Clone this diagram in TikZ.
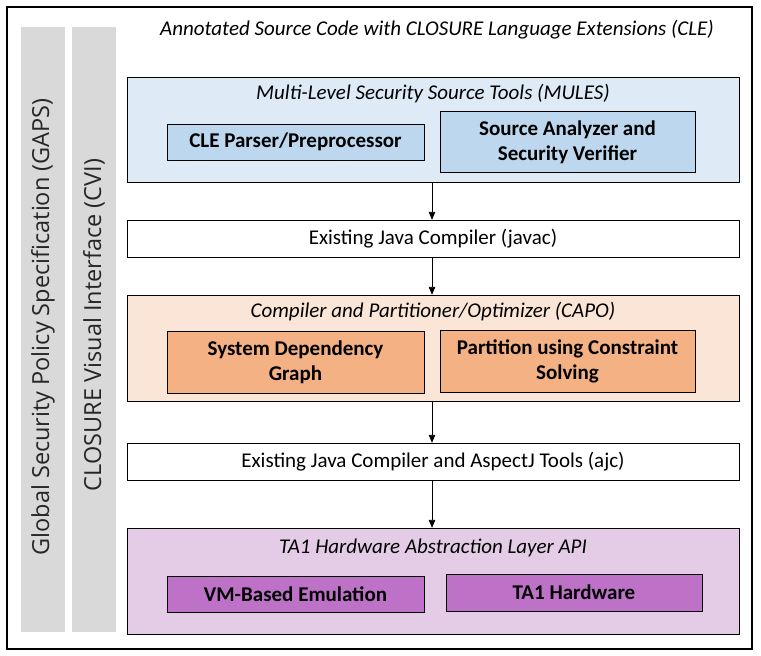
\documentclass[tikz,border=0pt]{standalone}
\usepackage{fontspec}
\setmainfont{Carlito}
\newfontfamily\sidefont{Open Sans}
\usetikzlibrary{arrows.meta,positioning}
\definecolor{barGrey}{HTML}{D9D9D9}
\definecolor{mulesBg}{HTML}{DEEBF7}
\definecolor{mulesIn}{HTML}{BDD7EE}
\definecolor{capoBg}{HTML}{FBE5D6}
\definecolor{capoIn}{HTML}{F4B183}
\definecolor{taBg}{HTML}{E4CCE6}
\definecolor{taIn}{HTML}{BD71C7}
\tikzset{
  layer/.style={draw, minimum width=612pt, inner sep=0pt},
  stage/.style={layer, fill=white, minimum height=37pt},
  heading/.style={font=\itshape\fontsize{21}{25}\selectfont},
  tool/.style={draw, inner sep=0pt, align=center, font=\bfseries\fontsize{21}{25}\selectfont},
  sidebar/.style={fill=barGrey, minimum width=44pt, minimum height=605pt, inner sep=0pt},
  sidetext/.style={rotate=90, text=black!85, font=\sidefont\fontsize{23.5}{26}\selectfont},
  flow/.style={-{Triangle[length=8pt,width=6.5pt]}, line width=0.9pt},
}
\begin{document}
\begin{tikzpicture}[x=1pt, y=-1pt, font=\fontsize{21}{25}\selectfont]
  \useasboundingbox (0,0) rectangle (761,656);
  \node[draw, line width=1.6pt, minimum width=745pt, minimum height=642pt] (frame) at (379.5,328) {};

  % side bars
  \node[sidebar] (gaps) at (43,329.5) {};
  \node[sidetext] (gapsText) at (43,327) {Global Security Policy Specification (GAPS)};
  \node[sidebar] (cvi) at (94,329.5) {};
  \node[sidetext] (cviText) at (94,325) {CLOSURE Visual Interface (CVI)};

  \node[heading] (source) at (437,30) {Annotated Source Code with CLOSURE Language Extensions (CLE)};

  % MULES
  \node[layer, fill=mulesBg, minimum height=105pt] (mules) at (433,129.5) {};
  \node[heading] (mulesTitle) at (433,94) {Multi-Level Security Source Tools (MULES)};
  \node[tool, fill=mulesIn, minimum width=257pt, minimum height=36pt] (cle) at (295.5,142) {CLE Parser/Preprocessor};
  \node[tool, fill=mulesIn, minimum width=255pt, minimum height=61pt] (sav) at (567.5,142) {Source Analyzer and\\Security Verifier};

  \node[stage] (javac) at (433,238.5) {Existing Java Compiler (javac)};

  % CAPO
  \node[layer, fill=capoBg, minimum height=106pt] (capo) at (433,348) {};
  \node[heading] (capoTitle) at (433,312) {Compiler and Partitioner/Optimizer (CAPO)};
  \node[tool, fill=capoIn, minimum width=257pt, minimum height=62pt] (sdg) at (295.5,362) {System Dependency\\Graph};
  \node[tool, fill=capoIn, minimum width=255pt, minimum height=62pt] (pcs) at (567.5,361) {Partition using Constraint\\Solving};

  \node[stage] (ajc) at (433,461.5) {Existing Java Compiler and AspectJ Tools (ajc)};

  % TA1
  \node[layer, fill=taBg, minimum height=106pt] (ta) at (433,581) {};
  \node[heading] (taTitle) at (433,548) {TA1 Hardware Abstraction Layer API};
  \node[tool, fill=taIn, minimum width=257pt, minimum height=36pt] (vm) at (295.5,594.5) {VM-Based Emulation};
  \node[tool, fill=taIn, minimum width=256pt, minimum height=37pt] (hw) at (574,592.5) {TA1 Hardware};

  % flow
  \draw[flow] (mules.south) ++(-1,0) coordinate (m1) -- (m1 |- javac.north);
  \draw[flow] (javac.south) ++(-1,0) coordinate (j1) -- (j1 |- capo.north);
  \draw[flow] (capo.south) ++(-1,0) coordinate (c1) -- (c1 |- ajc.north);
  \draw[flow] (ajc.south) ++(-1,0) coordinate (a1) -- (a1 |- ta.north);
\end{tikzpicture}
\end{document}
